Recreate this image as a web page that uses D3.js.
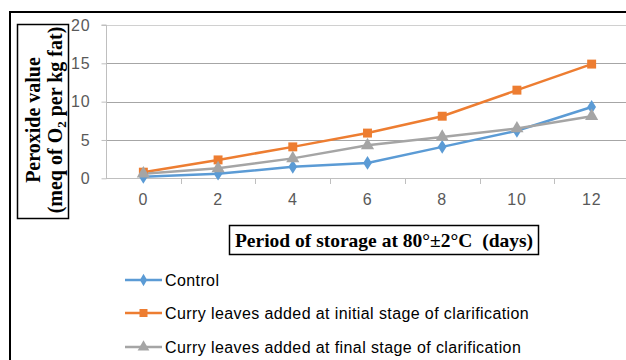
<!DOCTYPE html>
<html>
<head>
<meta charset="utf-8">
<script src="https://cdn.jsdelivr.net/npm/d3@7"></script>
<style>
  body { margin: 0; background: #fff; }
  svg { display: block; }
</style>
</head>
<body>
<svg id="chart" width="626" height="360"></svg>
<script>
var days = ['0', '2', '4', '6', '8', '10', '12'];
var control = [0.2, 0.6, 1.5, 2.0, 4.1, 6.2, 9.3];
var initialStage = [0.8, 2.4, 4.1, 5.9, 8.1, 11.5, 14.9];
var finalStage = [0.6, 1.3, 2.6, 4.3, 5.4, 6.5, 8.1];
var yTicks = [0, 5, 10, 15, 20];
var seriesNames = ['Control', 'Curry leaves added at initial stage of clarification', 'Curry leaves added at final stage of clarification'];
var seriesColors = ['#5B9BD5', '#ED7D31', '#A5A5A5'];

(function() {
  var svg = d3.select('#chart');
  var plotLeft = 106, plotTop = 25, plotBottom = 178.3, plotRight = 629;
  var sans = '"Liberation Sans", Arial, sans-serif';
  var serif = '"Liberation Serif", "Times New Roman", serif';

  var x = d3.scaleBand().domain(days).range([plotLeft, plotRight]);
  var y = d3.scaleLinear().domain([0, 20]).range([plotBottom, plotTop]);

  // outer frame
  svg.append('rect').attr('x', 10).attr('y', 12).attr('width', 640).attr('height', 400)
    .attr('fill', 'none').attr('stroke', '#000').attr('stroke-width', 2);

  // gridlines
  svg.append('g').selectAll('line').data(yTicks.slice(1)).enter().append('line')
    .attr('x1', plotLeft).attr('x2', 626)
    .attr('y1', function(d) { return Math.round(y(d)) + 0.5; })
    .attr('y2', function(d) { return Math.round(y(d)) + 0.5; })
    .attr('stroke', function(d) { return d === 20 ? '#d0d0d0' : '#a6a6a6'; })
    .attr('stroke-width', 1);

  // y axis
  var yAxis = d3.axisLeft(y).tickValues(yTicks).tickSize(5).tickPadding(11);
  var gy = svg.append('g').attr('transform', 'translate(' + (plotLeft + 0.5) + ',0)').call(yAxis);
  gy.select('.domain').attr('stroke', '#bfbfbf').attr('d', 'M-5,' + plotTop + 'H0V' + plotBottom);
  gy.selectAll('.tick line').attr('stroke', '#bfbfbf');
  gy.selectAll('.tick text').attr('fill', '#595959').style('font-family', sans)
    .style('font-size', '16px').style('letter-spacing', '0.8px');

  // x axis
  var xAxis = d3.axisBottom(x).tickSize(0).tickPadding(15);
  var gx = svg.append('g').attr('transform', 'translate(0,' + (Math.round(plotBottom) + 0.5) + ')').call(xAxis);
  gx.select('.domain').attr('stroke', '#bfbfbf').attr('d', 'M' + plotLeft + ',0H626');
  gx.selectAll('.tick text').attr('fill', '#595959').style('font-family', sans)
    .style('font-size', '16px').style('letter-spacing', '0.8px');
  svg.append('g').selectAll('line').data(days.slice(1)).enter().append('line')
    .attr('x1', function(d) { return Math.round(x(d)) + 0.5; })
    .attr('x2', function(d) { return Math.round(x(d)) + 0.5; })
    .attr('y1', Math.round(plotBottom)).attr('y2', Math.round(plotBottom) + 6)
    .attr('stroke', '#bfbfbf');

  // series
  var series = [control, initialStage, finalStage];
  var line = d3.line()
    .x(function(d, i) { return x(days[i]) + x.bandwidth() / 2; })
    .y(function(d) { return y(d); });
  var symbols = [d3.symbolDiamond, d3.symbolSquare, d3.symbolTriangle];
  var symbolSizes = [55, 80, 75];

  series.forEach(function(s, k) {
    svg.append('path').datum(s).attr('d', line).attr('fill', 'none')
      .attr('stroke', seriesColors[k]).attr('stroke-width', 2.5);
  });
  series.forEach(function(s, k) {
    svg.append('g').selectAll('path').data(s).enter().append('path')
      .attr('d', d3.symbol().type(symbols[k]).size(symbolSizes[k]))
      .attr('transform', function(d, i) {
        var sy = k === 0 ? 'scale(1.1,1)' : '';
        return 'translate(' + (x(days[i]) + x.bandwidth() / 2) + ',' + y(d) + ')' + sy;
      })
      .attr('fill', seriesColors[k]);
  });

  // y title box
  svg.append('rect').attr('x', 17.5).attr('y', 24.5).attr('width', 51).attr('height', 194)
    .attr('fill', '#fff').attr('stroke', '#000').attr('stroke-width', 1.5);
  var yTitle = svg.append('text').attr('transform', 'translate(40,120) rotate(-90)')
    .attr('text-anchor', 'middle')
    .style('font-family', serif)
    .style('font-weight', 'bold').style('font-size', '20px');
  yTitle.append('tspan').attr('x', 0).attr('y', 0).text('Peroxide value');
  var t2 = yTitle.append('tspan').attr('x', 0).attr('y', 22);
  t2.append('tspan').text('(meq of O');
  t2.append('tspan').attr('dy', 4).style('font-size', '13px').text('2');
  t2.append('tspan').attr('dy', -4).text(' per kg fat)');

  // x title box
  svg.append('rect').attr('x', 229.5).attr('y', 225.5).attr('width', 309).attr('height', 29)
    .attr('fill', '#fff').attr('stroke', '#000').attr('stroke-width', 1.5);
  svg.append('text').attr('x', 384).attr('y', 247).attr('text-anchor', 'middle')
    .style('font-family', serif)
    .style('font-weight', 'bold').style('font-size', '19.5px').style('white-space', 'pre')
    .text('Period of storage at 80°±2°C  (days)');

  // legend
  var legendY = [280, 313, 347];
  var lg = svg.append('g').selectAll('g').data(seriesNames).enter().append('g')
    .attr('transform', function(d, i) { return 'translate(125,' + legendY[i] + ')'; });
  lg.append('line').attr('x1', 0).attr('x2', 37).attr('y1', 0).attr('y2', 0)
    .attr('stroke', function(d, i) { return seriesColors[i]; }).attr('stroke-width', 2.5);
  lg.append('path')
    .attr('d', function(d, i) { return d3.symbol().type(symbols[i]).size(symbolSizes[i] * 0.8)(); })
    .attr('transform', 'translate(18.5,0)')
    .attr('fill', function(d, i) { return seriesColors[i]; });
  lg.append('text').attr('x', 40).attr('y', 5.5).text(function(d) { return d; })
    .attr('fill', '#000')
    .style('font-family', sans).style('font-size', '16px').style('letter-spacing', '0.4px');
})();
</script>
</body>
</html>
